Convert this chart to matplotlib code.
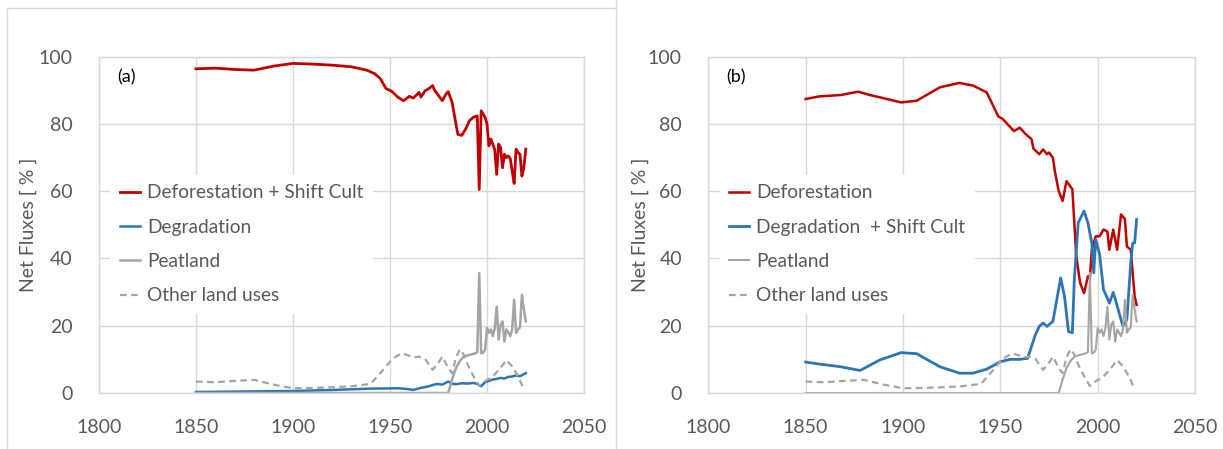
import matplotlib
matplotlib.use("Agg")
import matplotlib.pyplot as plt
from matplotlib.lines import Line2D

plt.rcParams['font.family'] = ['Lato', 'DejaVu Sans']

# ---------------- data: panel (a) ----------------
a_def_years = [1850, 1860, 1870, 1880, 1890, 1900, 1910, 1920, 1930, 1938, 1942, 1945, 1948, 1951,
               1954, 1957, 1960, 1962, 1964, 1965, 1966, 1968, 1970, 1972, 1973, 1975, 1977, 1979,
               1980, 1982, 1984, 1985, 1987, 1989, 1991, 1993, 1995, 1996, 1997, 1999, 2000, 2001,
               2002, 2003, 2004, 2005, 2006, 2007, 2008, 2009, 2010, 2011, 2012, 2013, 2014, 2015,
               2016, 2017, 2018, 2019, 2020]
a_def_vals = [96.4, 96.6, 96.2, 96.0, 97.2, 98.0, 97.8, 97.5, 97.0, 96.0, 95.0, 93.5, 90.5, 89.7,
              88.0, 86.9, 88.2, 87.7, 88.8, 89.4, 88.0, 89.8, 90.5, 91.4, 90.0, 88.5, 86.9, 89.0,
              89.6, 86.5, 80.0, 76.9, 76.6, 78.5, 81.0, 82.0, 82.4, 60.5, 83.9, 82.0, 80.0, 73.5,
              75.5, 74.0, 72.4, 65.0, 74.0, 73.0, 67.0, 71.0, 70.0, 70.5, 69.7, 66.0, 62.3, 72.5,
              71.5, 71.0, 64.5, 67.0, 72.5]

a_deg_years = [1850, 1900, 1920, 1940, 1955, 1960, 1962, 1965, 1970, 1974, 1977, 1980, 1982, 1984,
               1987, 1990, 1993, 1995, 1997, 1999, 2001, 2003, 2005, 2007, 2009, 2011, 2013, 2015,
               2017, 2019, 2020]
a_deg_vals = [0.3, 0.6, 0.9, 1.3, 1.4, 1.1, 0.9, 1.4, 2.0, 2.7, 2.5, 3.4, 2.8, 2.6,
              2.9, 2.8, 3.0, 2.7, 2.0, 3.2, 3.6, 4.0, 4.2, 4.5, 4.3, 4.8, 4.9, 5.2,
              5.0, 5.6, 5.9]

peat_years = [1850, 1980, 1982, 1984, 1986, 1988, 1990, 1992, 1994, 1995, 1996, 1997, 1998, 1999,
              2000, 2001, 2002, 2003, 2004, 2005, 2006, 2007, 2008, 2009, 2010, 2011, 2012, 2013,
              2014, 2015, 2016, 2017, 2018, 2019, 2020]
peat_vals = [0.0, 0.0, 4.0, 7.4, 9.5, 10.8, 11.2, 11.5, 11.8, 12.2, 35.7, 11.8, 12.0, 12.8,
             19.3, 17.9, 18.9, 16.9, 19.3, 25.7, 15.9, 20.3, 21.3, 15.3, 18.9, 18.0, 16.9, 19.0,
             27.7, 17.9, 18.9, 19.5, 29.2, 25.0, 21.3]

other_years = [1850, 1860, 1870, 1880, 1890, 1900, 1910, 1920, 1930, 1940, 1945, 1950, 1953, 1956,
               1959, 1962, 1965, 1968, 1970, 1972, 1975, 1977, 1980, 1982, 1984, 1986, 1988, 1990,
               1993, 1996, 1999, 2003, 2007, 2010, 2013, 2016, 2019]
other_vals = [3.4, 3.2, 3.6, 3.9, 2.5, 1.4, 1.5, 1.7, 2.0, 2.7, 5.9, 9.3, 10.8, 11.8,
              11.3, 10.6, 10.8, 10.2, 8.5, 6.9, 9.0, 10.8, 7.5, 5.9, 10.5, 13.0, 11.5, 8.5,
              5.0, 2.1, 3.5, 4.9, 7.5, 9.8, 7.9, 5.0, 1.1]

# ---------------- data: panel (b) ----------------
b_def_years = [1850, 1857, 1868, 1877, 1883, 1892, 1899, 1907, 1919, 1929, 1936, 1943, 1949, 1951,
               1957, 1960, 1963, 1966, 1967, 1970, 1972, 1974, 1975, 1977, 1978, 1980, 1982, 1984,
               1987, 1989, 1991, 1993, 1995, 1996, 1997, 1999, 2001, 2003, 2005, 2006, 2008, 2010,
               2012, 2014, 2015, 2017, 2019, 2020]
b_def_vals = [87.4, 88.2, 88.6, 89.6, 88.6, 87.4, 86.4, 86.9, 90.9, 92.2, 91.4, 89.4, 82.2, 81.6,
              77.9, 78.9, 77.0, 75.5, 72.7, 71.0, 72.4, 71.0, 71.5, 70.0, 66.0, 60.0, 57.1, 63.0,
              60.6, 40.7, 32.7, 29.7, 34.7, 34.0, 42.6, 46.6, 46.6, 48.6, 48.0, 42.6, 48.6, 42.6,
              53.1, 51.7, 43.6, 42.6, 28.7, 26.2]

b_deg_years = [1850, 1857, 1868, 1878, 1888, 1899, 1907, 1919, 1929, 1936, 1943, 1950, 1955, 1960,
               1964, 1968, 1970, 1972, 1974, 1977, 1979, 1981, 1983, 1985, 1987, 1988, 1990, 1993,
               1995, 1997, 1998, 1999, 2001, 2003, 2005, 2006, 2008, 2009, 2012, 2013, 2015, 2017,
               2018, 2019, 2020]
b_deg_vals = [9.2, 8.6, 7.8, 6.7, 9.8, 12.0, 11.7, 7.8, 5.9, 5.9, 7.1, 9.3, 10.0, 10.0,
              10.3, 17.3, 19.8, 20.8, 19.8, 21.3, 27.7, 34.2, 28.6, 18.3, 17.9, 33.7, 50.6, 54.1,
              50.6, 44.6, 35.7, 45.6, 41.2, 30.7, 28.2, 26.7, 29.9, 28.0, 21.8, 19.8, 21.8, 38.7,
              44.6, 44.6, 51.6]

xticks = [1800, 1850, 1900, 1950, 2000, 2050]
yticks = [0, 20, 40, 60, 80, 100]

RED = '#c00000'
BLUE = '#2e75b6'
GRAY = '#a5a5a5'
TXT = '#595959'
GRID = '#d9d9d9'

W, H = 1223, 449
fig = plt.figure(figsize=(W / 100, H / 100), dpi=100)

def px_ax(l, r, t, b):
    return fig.add_axes([l / W, 1 - b / H, (r - l) / W, (b - t) / H])

ax_a = px_ax(98.9, 584.0, 56.7, 393.0)
ax_b = px_ax(708.3, 1195.0, 56.7, 393.0)

def style(ax):
    ax.set_xlim(1800, 2050)
    ax.set_ylim(0, 100)
    ax.set_xticks(xticks)
    ax.set_yticks(yticks)
    ax.grid(True, color=GRID, lw=1.0)
    ax.set_axisbelow(True)
    for s in ax.spines.values():
        s.set_color(GRID)
        s.set_linewidth(1.0)
    ax.tick_params(length=0, labelsize=14, colors=TXT)
    ax.tick_params(axis='y', pad=19)
    ax.tick_params(axis='x', pad=19)
    ax.set_ylabel('Net Fluxes [ % ]', fontsize=14, color=TXT)

style(ax_a)
style(ax_b)
ax_a.yaxis.set_label_coords(-0.128, 0.5)
ax_b.yaxis.set_label_coords(-0.122, 0.5)

# panel a
ax_a.plot(a_def_years, a_def_vals, color=RED, lw=2.0, label='Deforestation + Shift Cult')
ax_a.plot(a_deg_years, a_deg_vals, color=BLUE, lw=1.8, label='Degradation')
ax_a.plot(peat_years, peat_vals, color=GRAY, lw=1.8, label='Peatland')
ax_a.plot(other_years, other_vals, color=GRAY, lw=1.6, ls=(0, (3, 2)), label='Other land uses')

# panel b
ax_b.plot(b_def_years, b_def_vals, color=RED, lw=1.8, label='Deforestation')
ax_b.plot(b_deg_years, b_deg_vals, color=BLUE, lw=2.0, label='Degradation  + Shift Cult')
ax_b.plot(peat_years, peat_vals, color=GRAY, lw=1.5, label='Peatland')
ax_b.plot(other_years, other_vals, color=GRAY, lw=1.6, ls=(0, (3, 2)), label='Other land uses')

for ax, lab in ((ax_a, '(a)'), (ax_b, '(b)')):
    ax.text(0.037, 0.94, lab, transform=ax.transAxes, fontsize=13, color='black',
            ha='left', va='center')
    leg = ax.legend(loc='center left', bbox_to_anchor=(0.0235, 0.442), frameon=True,
                    fontsize=13.8, handlelength=1.05, handletextpad=0.36,
                    labelspacing=0.9, borderpad=0.5, borderaxespad=0.0)
    leg.get_frame().set_facecolor('white')
    leg.get_frame().set_edgecolor('none')
    leg.get_frame().set_alpha(1)
    for t in leg.get_texts():
        t.set_color(TXT)

# chart-area borders
fig.add_artist(Line2D([7 / W, 7 / W], [0, 1 - 8 / H], transform=fig.transFigure, color=GRID, lw=1))
fig.add_artist(Line2D([616 / W, 616 / W], [0, 1], transform=fig.transFigure, color=GRID, lw=1))
fig.add_artist(Line2D([7 / W, 616 / W], [1 - 8 / H, 1 - 8 / H], transform=fig.transFigure, color=GRID, lw=1))

fig.savefig('out.png', dpi=100)
